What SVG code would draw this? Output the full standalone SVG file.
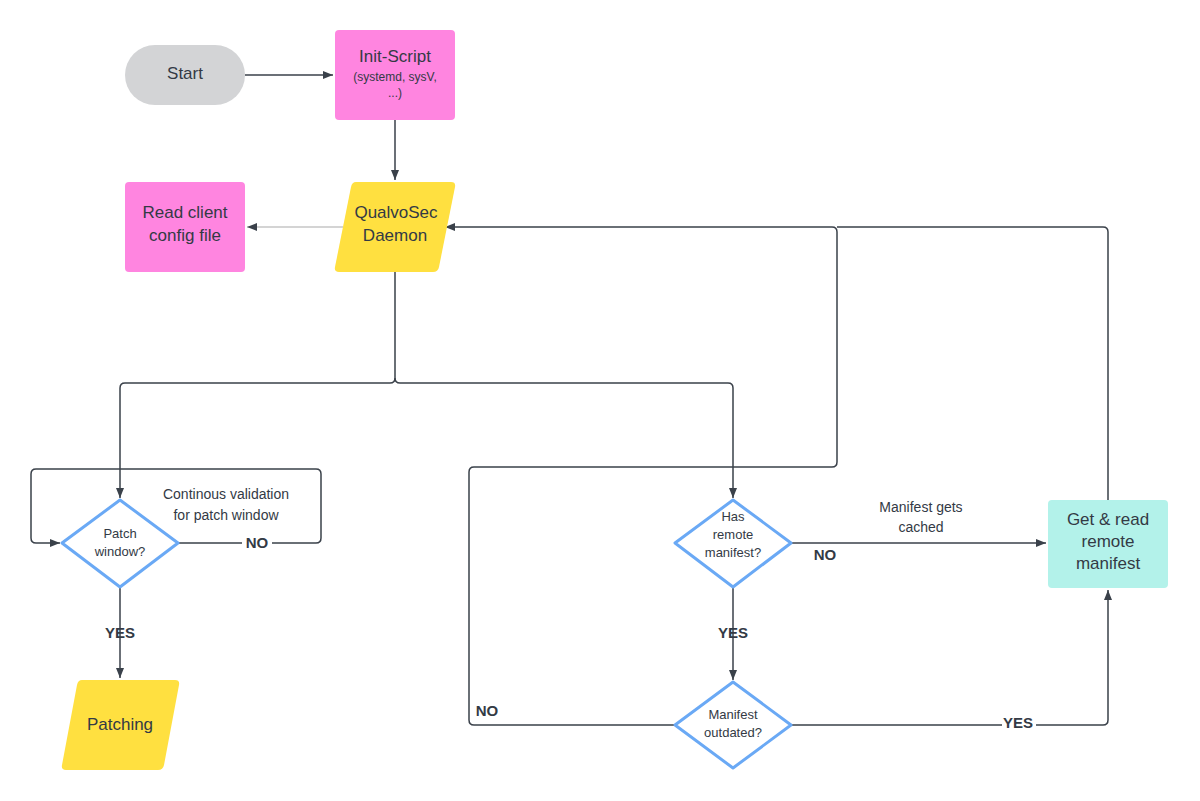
<svg xmlns="http://www.w3.org/2000/svg" width="1200" height="801" viewBox="0 0 1200 801">
<style>
text{font-family:"Liberation Sans",Arial,sans-serif;fill:#333a45;text-anchor:middle}
.t16{font-size:17px}.t14{font-size:14px}.t13{font-size:13px}.t12{font-size:12px}
.b{font-weight:bold;font-size:15px}
.c{fill:none;stroke:#3a414a;stroke-width:1.5}
.d{fill:#fff;stroke:#6aa9f5;stroke-width:3;stroke-linejoin:round}
</style>
<defs><marker id="a" viewBox="0 0 10 10" refX="10" refY="5" markerWidth="10" markerHeight="10" markerUnits="userSpaceOnUse" orient="auto"><path d="M0,1 L10,5 L0,9 z" fill="#3a414a"/></marker></defs>
<rect width="1200" height="801" fill="#fff"/>
<g id="connectors">
<path class="c" d="M245,75 H333" marker-end="url(#a)"/>
<path class="c" d="M395,120 V180" marker-end="url(#a)"/>
<path d="M343,227 H247" fill="none" stroke="#aaaaaa" stroke-width="1.2" marker-end="url(#a)"/>
<path class="c" d="M395,272 V378 Q395,383 390,383 H125 Q120,383 120,388 V498" marker-end="url(#a)"/>
<path class="c" d="M395,378 Q395,383 400,383 H728 Q733,383 733,388 V498" marker-end="url(#a)"/>
<path class="c" d="M178,543 H316 Q321,543 321,538 V474 Q321,469 316,469 H36 Q31,469 31,474 V538 Q31,543 36,543 H60" marker-end="url(#a)"/>
<path class="c" d="M120,587 V678" marker-end="url(#a)"/>
<path class="c" d="M791,543 H1046" marker-end="url(#a)"/>
<path class="c" d="M733,587 V680" marker-end="url(#a)"/>
<path class="c" d="M791,725 H1103 Q1108,725 1108,720 V590" marker-end="url(#a)"/>
<path class="c" d="M675,725 H474 Q469,725 469,720 V472 Q469,467 474,467 H832 Q837,467 837,462 V232 Q837,227 832,227 H445" marker-end="url(#a)"/>
<path class="c" d="M1108,500 V232 Q1108,227 1103,227 H837"/>
</g>
<g id="start"><rect x="125" y="45" width="120" height="60" rx="30" fill="#d3d4d6"/><text class="t16" x="185" y="79">Start</text></g>
<g id="init"><rect x="335" y="30" width="120" height="90" rx="4" fill="#ff85e0"/><text class="t16" x="395" y="62">Init-Script</text><text class="t12" x="395" y="81">(systemd, sysV,</text><text class="t12" x="395" y="97">...)</text></g>
<g id="daemon"><path d="M356,182 H451 Q456,182 455,187 L439,267 Q438,272 433,272 H339 Q334,272 335,267 L351,187 Q352,182 356,182 Z" fill="#ffe040"/><text class="t16" x="396" y="218">QualvoSec</text><text class="t16" x="395" y="241">Daemon</text></g>
<g id="config"><rect x="125" y="182" width="120" height="90" rx="4" fill="#ff85e0"/><text class="t16" x="185" y="218">Read client</text><text class="t16" x="185" y="241">config file</text></g>
<g id="patchwin"><path class="d" d="M120,500 L178,543 L120,587 L62,543 Z"/><text class="t13" x="120" y="538">Patch</text><text class="t13" x="120" y="556">window?</text></g>
<g id="patching"><path d="M82,680 H175 Q180,680 179,685 L164,765 Q163,770 158,770 H66 Q61,770 62,765 L77,685 Q78,680 82,680 Z" fill="#ffe040"/><text class="t16" x="120" y="730">Patching</text></g>
<g id="hasremote"><path class="d" d="M733,500 L791,543 L733,587 L675,543 Z"/><text class="t13" x="733" y="521">Has</text><text class="t13" x="733" y="539">remote</text><text class="t13" x="733" y="557">manifest?</text></g>
<g id="outdated"><path class="d" d="M733,682 L791,725 L733,768 L675,725 Z"/><text class="t13" x="733" y="719">Manifest</text><text class="t13" x="733" y="737">outdated?</text></g>
<g id="getread"><rect x="1048" y="500" width="120" height="88" rx="4" fill="#b3f2ea"/><text class="t16" x="1108" y="525">Get &amp; read</text><text class="t16" x="1108" y="547">remote</text><text class="t16" x="1108" y="569">manifest</text></g>
<g id="labels">
<text class="t14" x="226" y="499">Continous validation</text><text class="t14" x="226" y="520">for patch window</text>
<rect x="242" y="535" width="30" height="16" fill="#fff"/><text class="b" x="257" y="548">NO</text>
<text class="b" x="120" y="638">YES</text>
<text class="t14" x="921" y="512">Manifest gets</text><text class="t14" x="921" y="532">cached</text>
<text class="b" x="825" y="560">NO</text>
<text class="b" x="733" y="638">YES</text>
<rect x="1002" y="716" width="34" height="16" fill="#fff"/><text class="b" x="1018" y="728">YES</text>
<text class="b" x="487" y="716">NO</text>
</g>
</svg>
